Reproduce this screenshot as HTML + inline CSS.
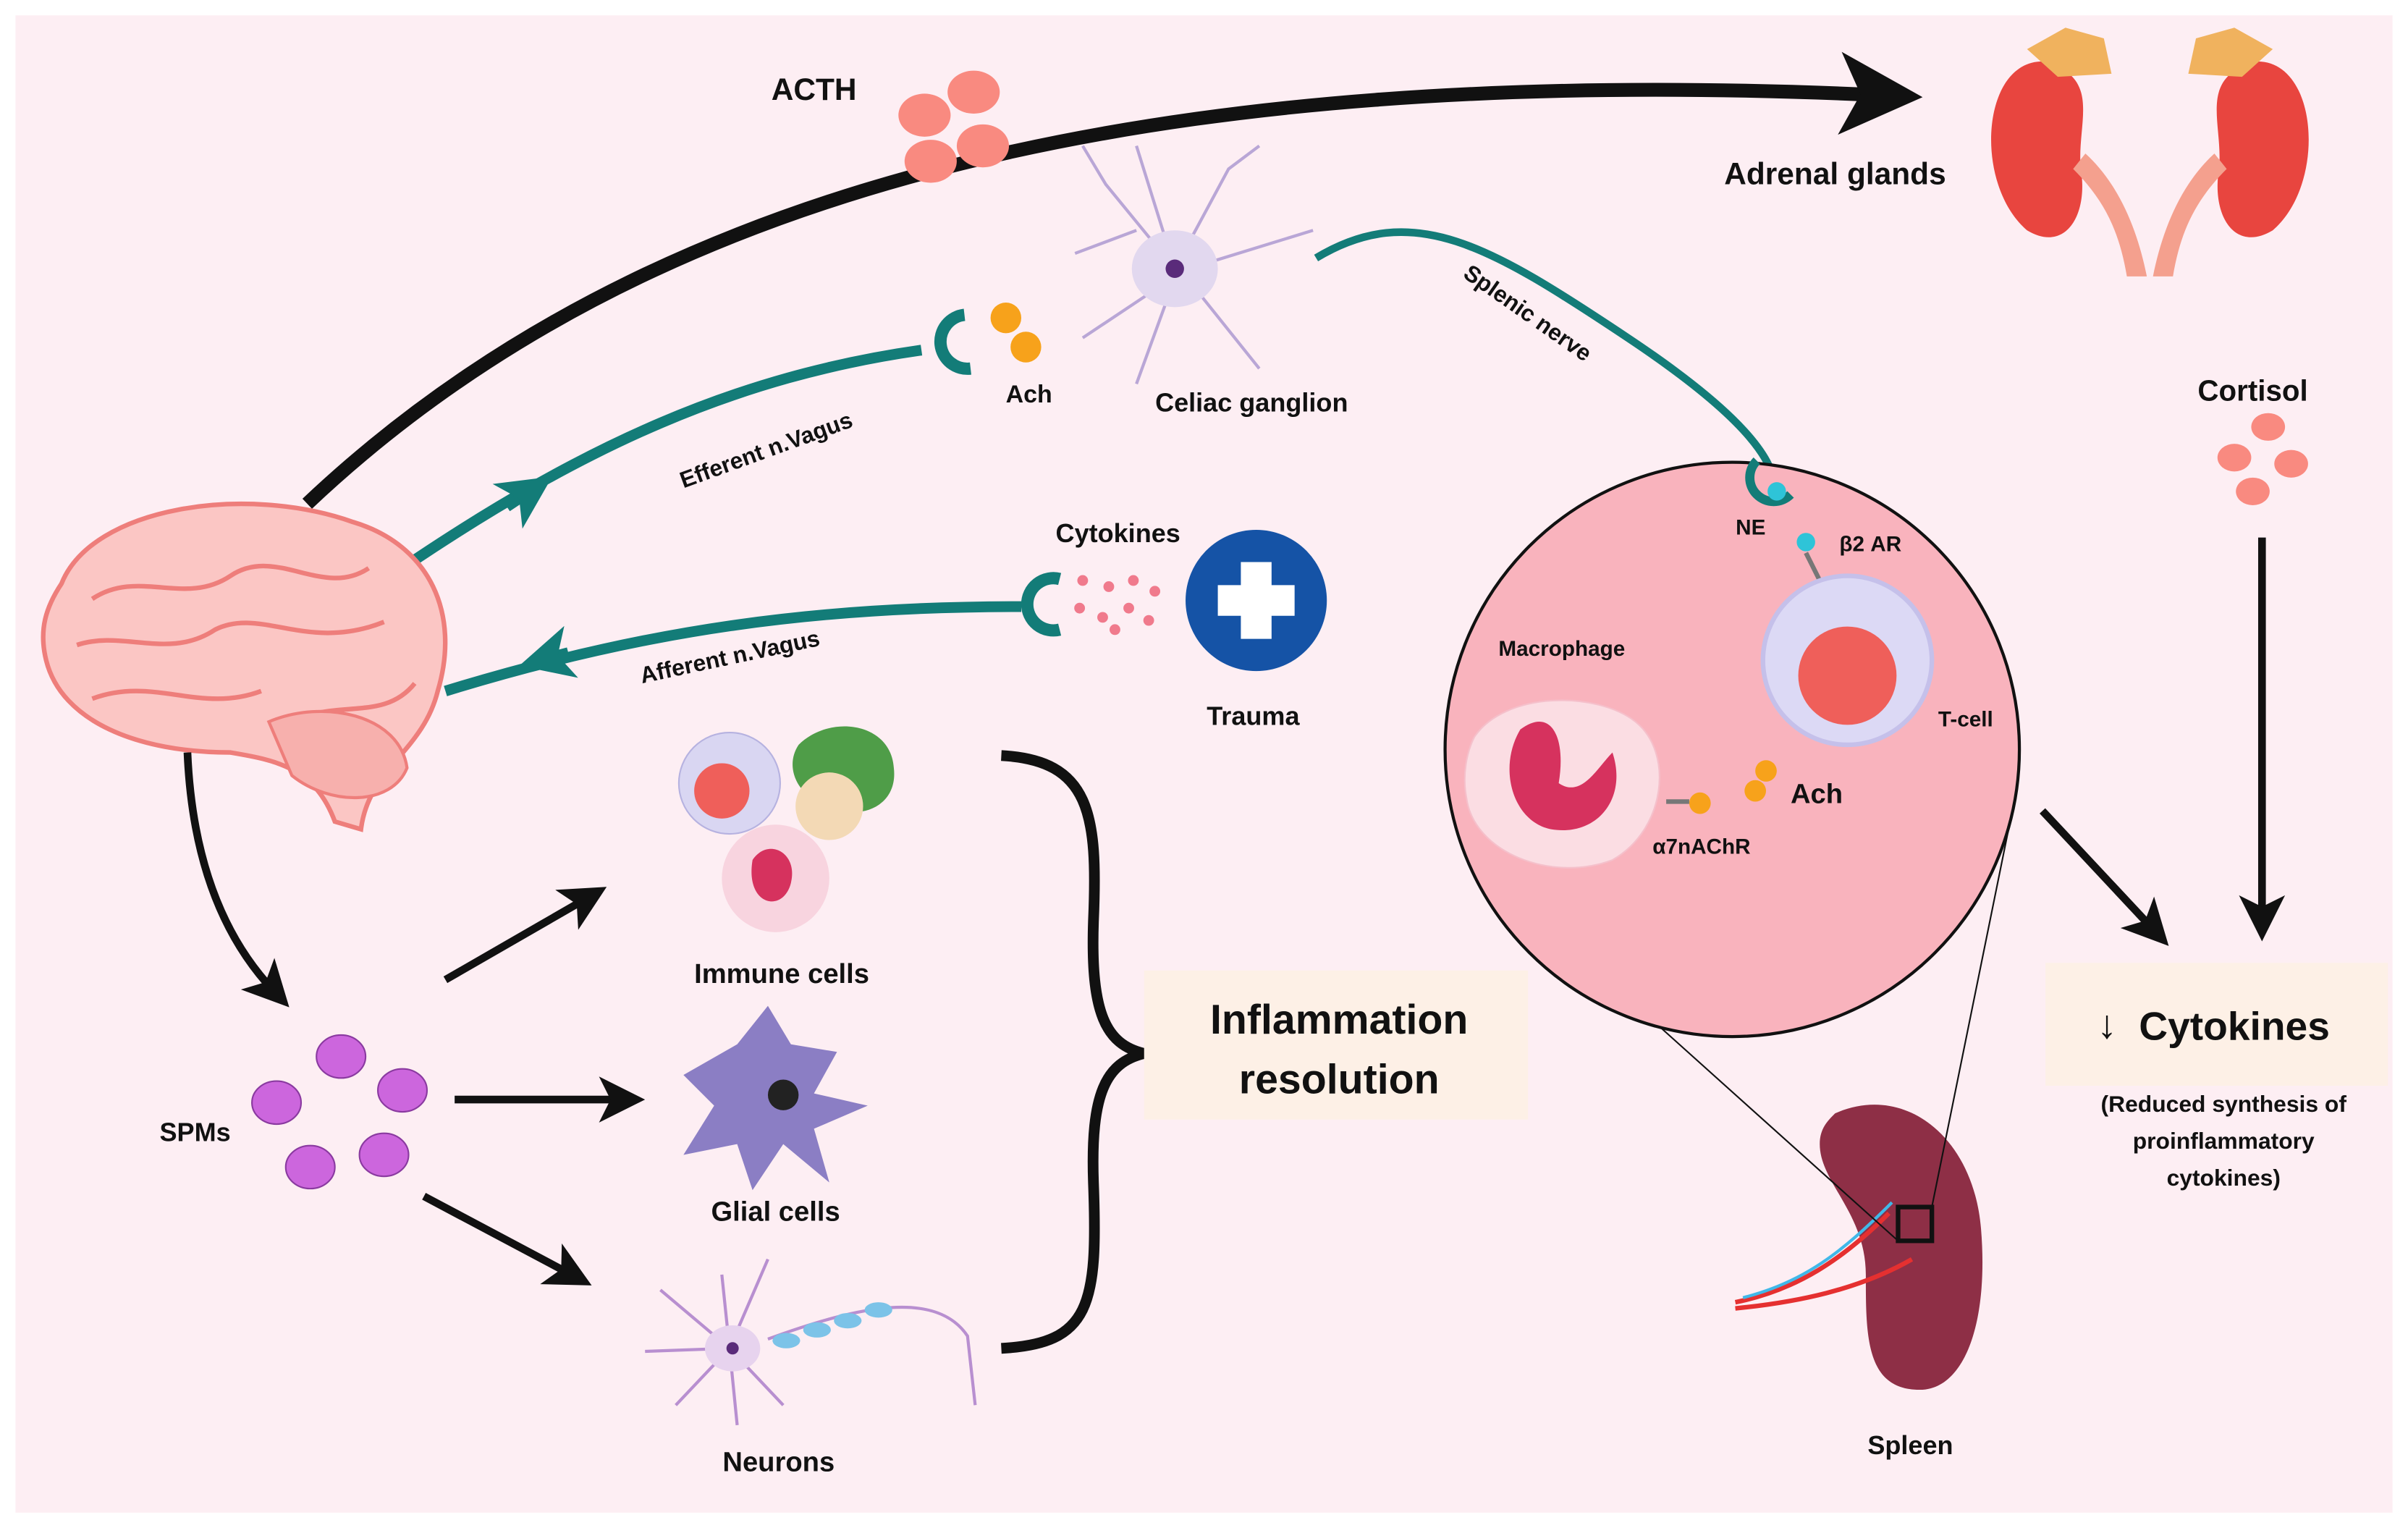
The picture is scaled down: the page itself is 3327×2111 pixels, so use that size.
<!DOCTYPE html>
<html><head><meta charset="utf-8"><style>
html,body{margin:0;padding:0;background:#fff}
svg{display:block}
text{font-family:"Liberation Sans",sans-serif;font-weight:bold;fill:#111}
</style></head><body>
<svg width="3327" height="2111" viewBox="0 0 1568 995" xmlns="http://www.w3.org/2000/svg">
<defs>
<marker id="ab" markerWidth="6" markerHeight="6" refX="3" refY="3" orient="auto" markerUnits="strokeWidth"><path d="M0,0 L6,3 L0,6 L1.5,3 z" fill="#111"/></marker>
<marker id="at" markerWidth="5" markerHeight="5" refX="2.5" refY="2.5" orient="auto" markerUnits="strokeWidth"><path d="M0,0 L5,2.5 L0,5 L1.3,2.5 z" fill="#137c78"/></marker>
</defs>
<rect x="10" y="10" width="1548" height="975" fill="#fdeef3"/>

<!-- big ACTH arc -->
<path d="M200,328 C420,120 750,40 1225,62" fill="none" stroke="#111" stroke-width="9" marker-end="url(#ab)"/>
<text x="530" y="65" font-size="20" text-anchor="middle">ACTH</text>
<g fill="#f98a80"><ellipse cx="602" cy="75" rx="17" ry="14"/><ellipse cx="634" cy="60" rx="17" ry="14"/><ellipse cx="606" cy="105" rx="17" ry="14"/><ellipse cx="640" cy="95" rx="17" ry="14"/></g>

<!-- kidneys -->
<g>
<path d="M1330,40 C1290,40 1285,120 1320,150 C1345,165 1360,140 1355,110 C1352,80 1370,50 1330,40z" fill="#e8453f"/>
<path d="M1470,40 C1510,40 1515,120 1480,150 C1455,165 1440,140 1445,110 C1448,80 1430,50 1470,40z" fill="#e8453f"/>
<path d="M1350,110 C1370,130 1380,150 1385,180 L1398,180 C1392,150 1380,120 1358,100z" fill="#f4a08e"/>
<path d="M1450,110 C1430,130 1420,150 1415,180 L1402,180 C1408,150 1420,120 1442,100z" fill="#f4a08e"/>
<path d="M1320,32 L1345,18 L1370,25 L1375,48 L1340,50z" fill="#f0b25e"/>
<path d="M1480,32 L1455,18 L1430,25 L1425,48 L1460,50z" fill="#f0b25e"/>
</g>
<text x="1195" y="120" font-size="20" text-anchor="middle">Adrenal glands</text>

<!-- celiac ganglion -->
<g stroke="#b9a6d6" stroke-width="2" fill="none">
<path d="M765,175 L720,120 L705,95 M740,150 L700,165 M765,175 L740,95 M765,175 L800,110 L820,95 M790,170 L855,150 M780,190 L820,240 M760,195 L740,250 M750,190 L705,220"/>
</g>
<ellipse cx="765" cy="175" rx="28" ry="25" fill="#e2d8ef"/>
<circle cx="765" cy="175" r="6" fill="#5a2b7a"/>
<text x="815" y="268" font-size="17" text-anchor="middle">Celiac ganglion</text>

<!-- Ach + receptor efferent -->
<circle cx="655" cy="207" r="10" fill="#f7a21b"/><circle cx="668" cy="226" r="10" fill="#f7a21b"/>
<text x="670" y="262" font-size="16" text-anchor="middle">Ach</text>
<path d="M262,370 C380,290 480,245 600,228" fill="none" stroke="#137c78" stroke-width="7"/>
<path d="M330,330 L345,320" stroke="#137c78" stroke-width="7" marker-end="url(#at)"/>
<path d="M628,205 A15,15 0 1 0 632,240" fill="none" stroke="#137c78" stroke-width="8"/>
<text x="0" y="0" font-size="15" transform="translate(445,318) rotate(-20)">Efferent n.Vagus</text>

<!-- splenic nerve -->
<path d="M857,168 C920,130 970,160 1060,220 C1120,260 1150,290 1155,312" fill="none" stroke="#137c78" stroke-width="5"/>
<text x="0" y="0" font-size="15" transform="translate(952,180) rotate(35)">Splenic nerve</text>

<!-- afferent -->
<path d="M290,450 C420,410 530,395 665,395" fill="none" stroke="#137c78" stroke-width="7"/>
<path d="M370,425 L355,429" stroke="#137c78" stroke-width="7" marker-end="url(#at)"/>
<path d="M690,377 A17,17 0 1 0 690,410" fill="none" stroke="#137c78" stroke-width="8"/>
<g fill="#f07a8c"><circle cx="705" cy="378" r="3.5"/><circle cx="722" cy="382" r="3.5"/><circle cx="738" cy="378" r="3.5"/><circle cx="752" cy="385" r="3.5"/><circle cx="703" cy="396" r="3.5"/><circle cx="718" cy="402" r="3.5"/><circle cx="735" cy="396" r="3.5"/><circle cx="748" cy="404" r="3.5"/><circle cx="726" cy="410" r="3.5"/></g>
<text x="728" y="353" font-size="17" text-anchor="middle">Cytokines</text>
<text x="0" y="0" font-size="15" transform="translate(418,445) rotate(-12)">Afferent n.Vagus</text>
<circle cx="818" cy="391" r="46" fill="#1553a6"/>
<path d="M808,366 h20 v15 h15 v20 h-15 v15 h-20 v-15 h-15 v-20 h15z" fill="#fff"/>
<text x="816" y="472" font-size="17" text-anchor="middle">Trauma</text>

<!-- brain -->
<path d="M40,380 C60,330 160,315 230,340 C280,355 300,400 285,450 C275,490 240,500 235,540 L218,535 C205,500 180,495 150,490 C90,490 40,470 30,430 C25,410 30,395 40,380z" fill="#fbc6c4" stroke="#ee7e7b" stroke-width="3"/>
<path d="M60,390 C90,370 120,395 150,375 C180,355 210,390 240,370 M50,420 C80,410 110,430 140,410 C170,395 200,425 250,405 M60,455 C100,440 130,465 170,450 M190,470 C220,455 250,470 270,445" fill="none" stroke="#ee7e7b" stroke-width="3"/>
<path d="M175,470 C210,455 260,465 265,500 C255,525 215,525 190,505z" fill="#f7b0ad" stroke="#ee7e7b" stroke-width="2"/>

<!-- brain to SPMs -->
<path d="M122,490 C125,560 145,610 178,645" fill="none" stroke="#111" stroke-width="5" marker-end="url(#ab)"/>
<g fill="#cc66dd" stroke="#8a3aa0" stroke-width="1"><ellipse cx="222" cy="688" rx="16" ry="14"/><ellipse cx="180" cy="718" rx="16" ry="14"/><ellipse cx="262" cy="710" rx="16" ry="14"/><ellipse cx="202" cy="760" rx="16" ry="14"/><ellipse cx="250" cy="752" rx="16" ry="14"/></g>
<text x="127" y="743" font-size="17" text-anchor="middle">SPMs</text>
<line x1="290" y1="638" x2="382" y2="585" stroke="#111" stroke-width="5" marker-end="url(#ab)"/>
<line x1="296" y1="716" x2="405" y2="716" stroke="#111" stroke-width="5" marker-end="url(#ab)"/>
<line x1="276" y1="779" x2="372" y2="830" stroke="#111" stroke-width="5" marker-end="url(#ab)"/>

<!-- immune cells -->
<circle cx="475" cy="510" r="33" fill="#d9d6f2" stroke="#b6b2e0"/>
<circle cx="470" cy="515" r="18" fill="#ef5f5a"/>
<path d="M520,485 C540,465 580,470 582,500 C585,525 560,535 540,525 C520,520 510,500 520,485z" fill="#4f9d48"/>
<circle cx="540" cy="525" r="22" fill="#f3d9b5"/>
<circle cx="505" cy="572" r="35" fill="#f8d4df"/>
<path d="M490,560 C500,545 520,555 515,575 C510,595 485,590 490,560z" fill="#d6325e"/>
<text x="509" y="640" font-size="18" text-anchor="middle">Immune cells</text>

<!-- glial -->
<path d="M480,680 L500,655 L515,680 L545,685 L530,712 L565,720 L530,735 L540,770 L510,745 L490,775 L480,745 L445,752 L465,720 L445,700z" fill="#8b7ec4"/>
<circle cx="510" cy="713" r="10" fill="#222"/>
<text x="505" y="795" font-size="18" text-anchor="middle">Glial cells</text>

<!-- neuron -->
<g stroke="#b88fd0" stroke-width="2" fill="none"><path d="M475,878 L430,840 M475,878 L420,880 M475,878 L440,915 M475,878 L470,830 M475,878 L500,820 M475,878 L480,928 M475,878 L510,915 M500,872 C560,850 610,840 630,870 L635,915"/></g>
<ellipse cx="477" cy="878" rx="18" ry="15" fill="#e7d3ee"/>
<circle cx="477" cy="878" r="4" fill="#5a2b7a"/>
<g fill="#7cc3e8"><ellipse cx="512" cy="873" rx="9" ry="5"/><ellipse cx="532" cy="866" rx="9" ry="5"/><ellipse cx="552" cy="860" rx="9" ry="5"/><ellipse cx="572" cy="853" rx="9" ry="5"/></g>
<text x="507" y="958" font-size="18" text-anchor="middle">Neurons</text>

<!-- brace -->
<path d="M652,492 C710,495 715,530 712,600 C710,660 720,680 745,686 C720,692 710,712 712,770 C715,850 710,875 652,878" fill="none" stroke="#111" stroke-width="7"/>
<rect x="745" y="632" width="250" height="97" fill="#fdf0e6"/>
<text x="872" y="673" font-size="27" text-anchor="middle">Inflammation</text>
<text x="872" y="712" font-size="27" text-anchor="middle">resolution</text>

<!-- spleen -->
<path d="M1195,725 C1240,705 1285,740 1290,800 C1295,860 1280,905 1250,905 C1215,905 1215,870 1215,830 C1215,790 1185,770 1185,745 C1185,735 1190,730 1195,725z" fill="#8e2f46"/>
<path d="M1130,848 C1170,840 1200,820 1230,790 M1130,852 C1170,848 1210,840 1245,820" stroke="#e53030" stroke-width="3" fill="none"/>
<path d="M1135,845 C1175,835 1200,815 1232,783" stroke="#40b8e8" stroke-width="2" fill="none"/>
<rect x="1236" y="786" width="22" height="22" fill="none" stroke="#111" stroke-width="3"/>
<line x1="1040" y1="632" x2="1236" y2="808" stroke="#111" stroke-width="1"/>
<line x1="1313" y1="515" x2="1258" y2="786" stroke="#111" stroke-width="1"/>
<text x="1244" y="947" font-size="17" text-anchor="middle">Spleen</text>

<!-- zoom circle -->
<circle cx="1128" cy="488" r="187" fill="#f9b3bd" stroke="#111" stroke-width="2"/>
<path d="M1144,300 A13,13 0 1 0 1166,322" fill="none" stroke="#137c78" stroke-width="6"/>
<circle cx="1157" cy="320" r="6" fill="#2ec4d8"/>
<text x="1140" y="348" font-size="14" text-anchor="middle">NE</text>
<circle cx="1176" cy="353" r="6" fill="#2ec4d8"/>
<path d="M1176,360 L1185,378" stroke="#777" stroke-width="3"/>
<text x="1218" y="359" font-size="14" text-anchor="middle">β2 AR</text>
<circle cx="1203" cy="430" r="55" fill="#dcd9f5" stroke="#c5c0ea" stroke-width="3"/>
<circle cx="1203" cy="440" r="32" fill="#ef5f5a"/>
<text x="1280" y="473" font-size="14" text-anchor="middle">T-cell</text>
<text x="1017" y="427" font-size="14" text-anchor="middle">Macrophage</text>
<path d="M960,480 C980,450 1040,450 1065,470 C1090,490 1085,540 1050,560 C1010,575 960,555 955,520 C952,505 955,490 960,480z" fill="#fbdde3" stroke="#f5c0cb"/>
<path d="M990,475 C1010,460 1020,480 1015,510 C1030,520 1040,500 1050,490 C1060,520 1040,545 1010,540 C985,535 975,500 990,475z" fill="#d6325e"/>
<path d="M1085,522 L1100,522" stroke="#777" stroke-width="3"/>
<circle cx="1107" cy="523" r="7" fill="#f7a21b"/>
<text x="1108" y="556" font-size="14" text-anchor="middle">α7nAChR</text>
<circle cx="1150" cy="502" r="7" fill="#f7a21b"/><circle cx="1143" cy="515" r="7" fill="#f7a21b"/>
<text x="1183" y="523" font-size="18" text-anchor="middle">Ach</text>

<!-- cortisol -->
<text x="1467" y="261" font-size="19" text-anchor="middle">Cortisol</text>
<g fill="#f98a80"><ellipse cx="1477" cy="278" rx="11" ry="9"/><ellipse cx="1455" cy="298" rx="11" ry="9"/><ellipse cx="1492" cy="302" rx="11" ry="9"/><ellipse cx="1467" cy="320" rx="11" ry="9"/></g>
<line x1="1473" y1="350" x2="1473" y2="598" stroke="#111" stroke-width="5" marker-end="url(#ab)"/>
<line x1="1330" y1="528" x2="1402" y2="605" stroke="#111" stroke-width="5" marker-end="url(#ab)"/>
<rect x="1332" y="627" width="223" height="80" fill="#fdf0e6"/>
<text x="1372" y="676" font-size="26" text-anchor="middle">↓</text>
<text x="1455" y="677" font-size="26" text-anchor="middle">Cytokines</text>
<text x="1448" y="724" font-size="15" text-anchor="middle">(Reduced synthesis of</text>
<text x="1448" y="748" font-size="15" text-anchor="middle">proinflammatory</text>
<text x="1448" y="772" font-size="15" text-anchor="middle">cytokines)</text>
</svg>
</body></html>
